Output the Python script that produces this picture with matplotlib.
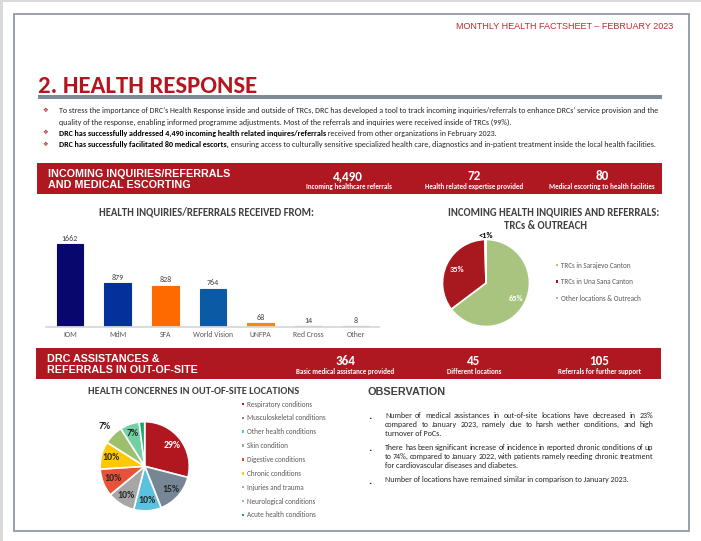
import matplotlib
matplotlib.use("Agg")
import matplotlib.pyplot as plt
from matplotlib import font_manager
from matplotlib.patches import Rectangle
import numpy as np

W, H = 701, 541
names = {f.name for f in font_manager.fontManager.ttflist}
CAL = "Carlito" if "Carlito" in names else "Lato"   # Calibri look-alike
ARI = "Liberation Sans"                              # Arial look-alike
RED = "#af1820"
DARK = "#262626"
GREY = "#595959"

# ---- data ----
sources = ["IOM", "MdM", "SFA", "World Vision", "UNFPA", "Red Cross", "Other"]
referrals = [1662, 879, 828, 764, 68, 14, 8]
bar_colors = ["#07076e", "#03319b", "#ff6a00", "#0b5aa6", "#f58a07", "#d94a4f", "#d94a4f"]

locations = ["TRCs in Sarajevo Canton", "TRCs in Una Sana Canton", "Other locations & Outreach"]
location_share = [65, 35, 0.4]
location_labels = ["65%", "35%", "<1%"]
location_colors = ["#a9c47f", "#a8181f", "#a5b3c0"]

concerns = ["Respiratory conditions", "Musculoskeletal conditions", "Other health conditions",
            "Skin condition", "Digestive conditions", "Chronic conditions",
            "Injuries and trauma", "Neurological conditions", "Acute health conditions"]
concern_share = [29, 15, 10, 10, 10, 10, 7, 7, 2]
concern_labels = ["29%", "15%", "10%", "10%", "10%", "10%", "7%", "7%", ""]
concern_colors = ["#b0171f", "#778695", "#5cc1de", "#a6a6a6", "#e8523b",
                  "#ffc800", "#9dbf6e", "#72d0a2", "#17a86b"]

kpi1_values = ["4,490", "72", "80"]
kpi1_labels = ["Incoming healthcare referrals", "Health related expertise provided",
               "Medical escorting to health facilities"]
kpi2_values = ["364", "45", "105"]
kpi2_labels = ["Basic medical assistance provided", "Different locations",
               "Referrals for further support"]

fig = plt.figure(figsize=(W / 100, H / 100), dpi=100, facecolor="white")
R = fig.canvas.get_renderer()

ov = fig.add_axes([0, 0, 1, 1])
ov.set_xlim(0, W)
ov.set_ylim(H, 0)
ov.axis("off")


def px(x0, y0, x1, y1):
    return [x0 / W, 1 - y1 / H, (x1 - x0) / W, (y1 - y0) / H]


def base(y, size):
    # y is the visual middle of the line, convert to baseline
    return y + 0.36 * size * 100 / 72


def fit(x, y, s, width, ha="left", **kw):
    t = ov.text(x, y, s, fontsize=10, ha=ha, va="baseline", **kw)
    w = t.get_window_extent(R).width
    t.set_fontsize(10 * width / w)
    t.set_y(base(y, t.get_fontsize()))
    return t.get_fontsize()


def put(x, y, s, size, ha="left", **kw):
    t = ov.text(x, base(y, size), s, fontsize=size, ha=ha, va="baseline", **kw)
    return t.get_window_extent(R).width


def justify(x0, x1, y, line, size, **kw):
    words = line.split()
    ts = [ov.text(0, base(y, size), w, fontsize=size, va="baseline", **kw) for w in words]
    ws = [t.get_window_extent(R).width for t in ts]
    gap = (x1 - x0 - sum(ws)) / (len(words) - 1)
    x = x0
    for t, w in zip(ts, ws):
        t.set_x(x)
        x += w + gap


# page frame
ov.add_patch(Rectangle((0, 0), 3, H, color="#d9d9d9", lw=0))
ov.add_patch(Rectangle((0, 0), W, 2, color="#d9d9d9", lw=0))
ov.add_patch(Rectangle((14, 14), 675, 517, fill=False, ec="#8d9aa6", lw=1.3))

# header + title
fit(673, 26, "MONTHLY HEALTH FACTSHEET \u2013 FEBRUARY 2023", 216, ha="right",
    family=ARI, color="#c0282f")
fit(38, 84.5, "2. HEALTH RESPONSE", 219, family=CAL, weight="bold", color="#b3161e")
ov.add_patch(Rectangle((38, 95), 624, 4, color="#7d8b98", lw=0))

# intro bullets
for y in [110, 132.7, 144]:
    ov.text(45, y, "\u2756", fontsize=4.5, color="#c0282f", ha="center", va="center",
            family="DejaVu Sans")
fs = fit(59, 110, "To stress the importance of DRC\u2019s Health Response inside and outside of TRCs, "
         "DRC has developed a tool to track incoming inquiries/referrals to enhance DRCs\u2019 "
         "service provision and the", 602, family=CAL, color=DARK)
put(59, 121.5, "quality of the response, enabling informed programme adjustments. Most of the "
    "referrals and inquiries were received inside of TRCs (99%).", fs, family=CAL, color=DARK)
w = put(59, 132.7, "DRC has successfully addressed 4,490 incoming health related inquires/referrals",
        fs, family=CAL, weight="bold", color="black")
put(59 + w, 132.7, " received from other organizations in February 2023.", fs, family=CAL, color=DARK)
w = put(59, 144, "DRC has successfully facilitated 80 medical escorts,", fs, family=CAL,
        weight="bold", color="black")
put(59 + w, 144, " ensuring access to culturally sensitive specialized health care, diagnostics "
    "and in-patient treatment inside the local health facilities.", fs, family=CAL, color=DARK)

# banner 1
ov.add_patch(Rectangle((37, 163), 625, 31, color=RED, lw=0))
bs = fit(48.5, 173.3, "INCOMING INQUIRIES/REFERRALS", 180, family=ARI, weight="bold", color="white")
put(48.5, 184.3, "AND MEDICAL ESCORTING", bs, family=ARI, weight="bold", color="white")
vs = fit(348, 175.5, kpi1_values[0], 30, ha="center", family=CAL, weight="bold", color="white")
ls = fit(349, 186.5, kpi1_labels[0], 86, ha="center", family=CAL, weight="bold", color="white")
for xc, v, lab in zip([474, 602], kpi1_values[1:], kpi1_labels[1:]):
    put(xc, 175.5, v, vs, ha="center", family=CAL, weight="bold", color="white")
    put(xc, 186.5, lab, ls, ha="center", family=CAL, weight="bold", color="white")

# banner 2
ov.add_patch(Rectangle((36, 348), 625, 31, color=RED, lw=0))
put(47, 358, "DRC ASSISTANCES &", bs, family=ARI, weight="bold", color="white")
put(47, 369.5, "REFERRALS IN OUT-OF-SITE", bs, family=ARI, weight="bold", color="white")
for xc, v, lab in zip([345, 474, 599], kpi2_values, kpi2_labels):
    put(xc, 360, v, vs, ha="center", family=CAL, weight="bold", color="white")
    put(xc, 371, lab, ls, ha="center", family=CAL, weight="bold", color="white")

# ---- bar chart ----
fit(206, 211.7, "HEALTH INQUIRIES/REFERRALS RECEIVED FROM:", 214, ha="center",
    family=CAL, weight="bold", color="#404040")
ax = fig.add_axes(px(46, 230, 379, 326.7))
ax.set_facecolor("none")
x = np.arange(len(sources))
bars = ax.bar(x, referrals, width=0.56, color=bar_colors, edgecolor=bar_colors, linewidth=0.8)
ax.bar_label(bars, padding=1.8, fontsize=5.8, color="#404040", family=CAL)
ax.set_xlim(-0.503, 6.48)
ax.set_ylim(0, 1953)
ax.set_xticks(x, sources, fontsize=5.6, color=GREY, family=CAL)
ax.tick_params(axis="x", length=0, pad=3.3)
ax.set_yticks([])
for s in ["top", "right", "left"]:
    ax.spines[s].set_visible(False)
ax.spines["bottom"].set_color("#d9d9d9")
ax.spines["bottom"].set_linewidth(1.3)

# ---- pie 1 ----
ts = fit(553.5, 211.7, "INCOMING HEALTH INQUIRIES AND REFERRALS:", 211, ha="center",
         family=CAL, weight="bold", color="#404040")
put(546, 225, "TRCs & OUTREACH", ts, ha="center", family=CAL, weight="bold", color="#404040")
cx, cy, rr = 486, 283, 43.5
ap = fig.add_axes(px(cx - rr, cy - rr, cx + rr, cy + rr))
wedges, _ = ap.pie(location_share, colors=location_colors, startangle=90, counterclock=False,
                   wedgeprops=dict(edgecolor="white", linewidth=1.2))
ap.set_xlim(-1, 1)
ap.set_ylim(-1, 1)
for wd, lab, d, c in zip(wedges, location_labels, [0.78, 0.73, 1.1], ["white", "white", "black"]):
    a = np.deg2rad((wd.theta1 + wd.theta2) / 2)
    ap.text(d * np.cos(a), d * np.sin(a), lab, ha="center", va="center", fontsize=6,
            color=c, weight="bold", family=CAL, clip_on=False)
lg = None
for i, (lab, col) in enumerate(zip(locations, location_colors)):
    y = 265 + i * 16.5
    ov.add_patch(Rectangle((555.5, y - 1.3), 2.6, 2.6, color=col, lw=0))
    if lg is None:
        lg = fit(561, y, lab, 70, family=CAL, color=GREY)
    else:
        put(561, y, lab, lg, family=CAL, color=GREY)

# ---- pie 2 ----
fit(88.3, 390, "HEALTH CONCERNES IN OUT-OF-SITE LOCATIONS", 211, family=CAL,
    weight="bold", color="#404040")
cx, cy, rr = 144.7, 466.3, 44.6
aq = fig.add_axes(px(cx - rr, cy - rr, cx + rr, cy + rr))
wedges, _ = aq.pie(concern_share, colors=concern_colors, startangle=90, counterclock=False,
                   wedgeprops=dict(edgecolor="white", linewidth=1.2))
aq.set_xlim(-1, 1)
aq.set_ylim(-1, 1)
for i, (wd, lab) in enumerate(zip(wedges, concern_labels)):
    a = np.deg2rad((wd.theta1 + wd.theta2) / 2)
    d = 1.26 if i == 6 else 0.77
    aq.text(d * np.cos(a), d * np.sin(a), lab, ha="center", va="center", fontsize=7,
            color="white" if i == 0 else DARK, weight="bold", family=CAL, clip_on=False)
for i, (lab, col) in enumerate(zip(concerns, concern_colors)):
    y = 404 + i * 13.85
    ov.add_patch(Rectangle((241.5, y - 1.3), 2.6, 2.6, color=col, lw=0))
    put(247, y, lab, lg, family=CAL, color=GREY)

# ---- observation ----
fit(368, 391, "OBSERVATION", 78, family=ARI, weight="bold", color="#404040")
os_ = fit(385, 479, "Number of locations have remained similar in comparison to January 2023.",
          243, family=CAL, color=DARK)
justify(385, 653, 414.7, "Number of medical assistances in out-of-site locations have decreased in 23%",
        os_, family=CAL, color=DARK)
justify(385, 653, 424, "compared to January 2023, namely due to harsh wether conditions, and high",
        os_, family=CAL, color=DARK)
put(385, 433.5, "turnover of PoCs.", os_, family=CAL, color=DARK)
justify(385, 653, 446.7, "There has been significant increase of incidence in reported chronic conditions of up",
        os_, family=CAL, color=DARK)
justify(385, 653, 456, "to 74%, compared to January 2022, with patients namely needing chronic treatment",
        os_, family=CAL, color=DARK)
put(385, 465.5, "for cardiovascular diseases and diabetes.", os_, family=CAL, color=DARK)
for y in [414.7, 446.7, 479]:
    ov.text(370, y + 2, ".", fontsize=6, ha="center", va="center", color=DARK, weight="bold")

fig.savefig("out.png", dpi=100, facecolor="white")
